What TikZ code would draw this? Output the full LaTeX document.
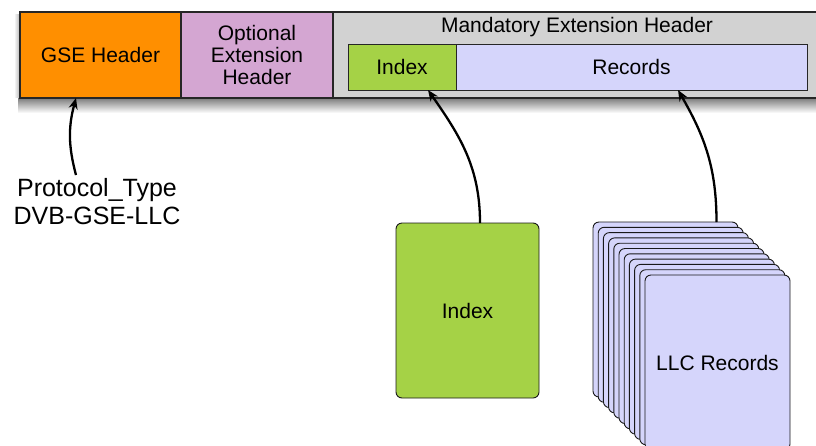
\documentclass[tikz,border=0pt]{standalone}
\usepackage{fontspec}
\setmainfont{Liberation Sans}
\usetikzlibrary{arrows.meta,calc}
\definecolor{gseorange}{RGB}{255,143,0}
\definecolor{optpink}{RGB}{212,166,210}
\definecolor{mandgray}{RGB}{210,210,210}
\definecolor{idxgreen}{RGB}{165,210,70}
\definecolor{reclav}{RGB}{213,213,251}
\tikzset{
  cell/.style={draw=black!85, line width=1.2pt, anchor=north west, inner sep=0pt, outer sep=0pt, font=\fontsize{21}{24}\selectfont, align=center},
  card/.style={draw=black!90, line width=0.9pt, rounded corners=6pt, anchor=north west, inner sep=0pt, outer sep=0pt, minimum width=145pt, minimum height=175pt, font=\fontsize{21}{24}\selectfont},
  link/.style={line width=2.3pt, -{Stealth[length=11pt,width=9pt]}},
}
\begin{document}
\begin{tikzpicture}[x=1pt,y=-1pt]
\useasboundingbox (0,0) rectangle (816,445);
\clip (0,0) rectangle (816,445);
% shadow under bar
\shade[top color=black!55, bottom color=white] (18,97) rectangle (830,113);
\shade[left color=white, right color=black!30] (14,14) rectangle (20,97);
% header bar
\node[cell, fill=mandgray, minimum width=500pt, minimum height=86pt] (mand) at (333,12) {};
\node[cell, fill=gseorange, minimum width=161pt, minimum height=86pt] (gse) at (20,12) {GSE Header};
\node[cell, fill=optpink, minimum width=152pt, minimum height=86pt] (opt) at (181,12) {Optional\\[-2pt]Extension\\[-2pt]Header};
\node[font=\fontsize{21}{24}\selectfont, anchor=center] (mtitle) at (577,27) {Mandatory Extension Header};
\node[cell, line width=1pt, fill=idxgreen, minimum width=108pt, minimum height=46pt] (idxs) at (348,44) {Index};
\node[cell, line width=1pt, fill=reclav, minimum width=351pt, minimum height=46pt] (recs) at (456,44) {Records};
% big index box
\node[card, fill=idxgreen, minimum width=143pt] (idxb) at (396,223) {Index};
% stack of record cards
\foreach \i in {0,...,9} {
  \node[card, fill=reclav] (card\i) at ({593+5.2*\i},{222+5.3*\i}) {};
}
\node[card, fill=reclav] (llc) at (645,275) {LLC Records};
% protocol label
\node[font=\fontsize{25}{28}\selectfont, align=center, anchor=north] (proto) at (97,175) {Protocol\_Type\\DVB-GSE-LLC};
% arrows
\draw[link] ([xshift=-21pt]proto.north) to[out=105,in=-105] ([xshift=-24.5pt]gse.south);
\draw[link] ([xshift=12.5pt]idxb.north) to[out=90,in=-55] ([xshift=26pt]idxs.south);
\draw[link] ([xshift=51pt]card0.north) to[out=90,in=-60] ([xshift=46.5pt]recs.south);
\end{tikzpicture}
\end{document}
